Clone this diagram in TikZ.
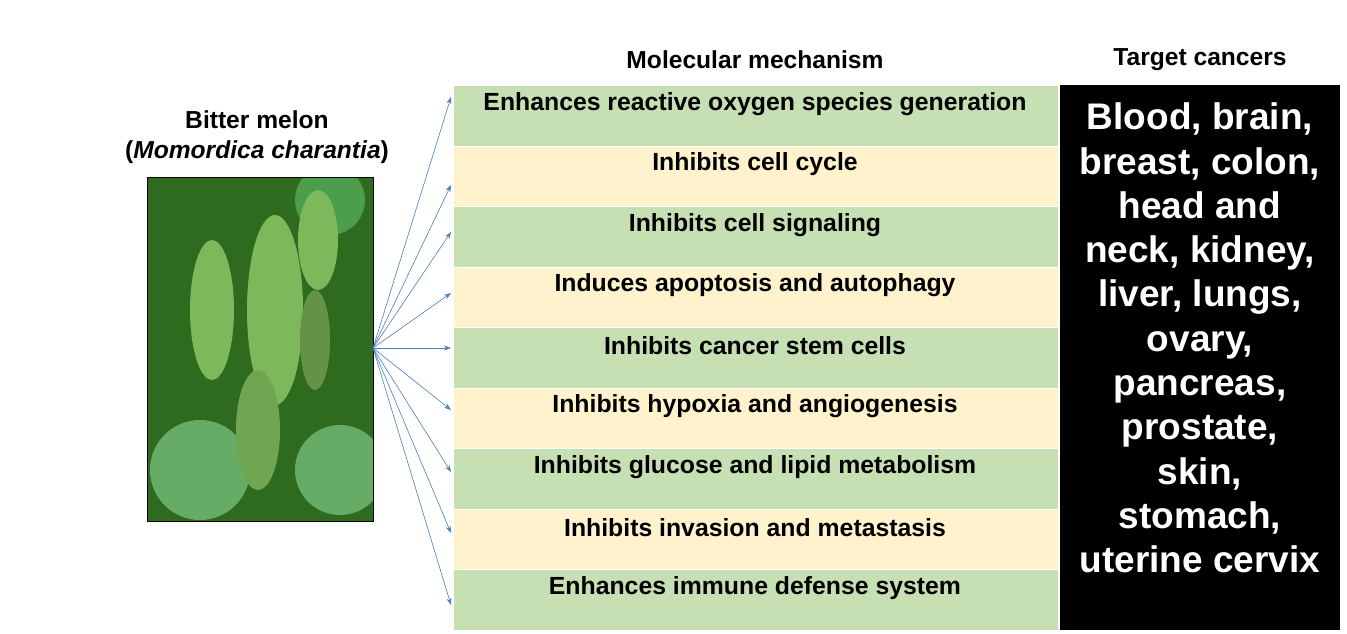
\documentclass[tikz,border=0pt]{standalone}
\usepackage{fontspec}
\setmainfont{Liberation Sans}
\usetikzlibrary{arrows.meta}
\definecolor{rg}{HTML}{C6E0B4}
\definecolor{ry}{HTML}{FFF2CC}
\definecolor{ab}{HTML}{4A7EBB}
\definecolor{leaf}{HTML}{2E6B1F}
\definecolor{melon}{HTML}{7DB85A}
\begin{document}
\begin{tikzpicture}[x=1pt,y=-1pt,
  row/.style={draw=white,line width=1pt,minimum width=605pt,minimum height=60.5pt,anchor=north west,inner sep=0pt},
  rt/.style={font=\fontsize{24.8pt}{27pt}\selectfont\bfseries},
  hdr/.style={font=\fontsize{24.6pt}{30pt}\selectfont\bfseries},
  arr/.style={ab,line width=0.6pt,-{Stealth[length=7pt,width=5pt]}}]
\useasboundingbox (0,0) rectangle (1347,634);
\node[hdr] (h1) at (755,60) {Molecular mechanism};
\node[hdr] (h2) at (1200,60) {Target cancers};
\node[hdr,align=center] (bm) at (257,137) {Bitter melon\\(\textit{Momordica charantia})};
% photo
\node[draw=black,line width=1pt,fill=leaf,minimum width=226pt,minimum height=344pt,anchor=north west,inner sep=0pt] (ph) at (147,177) {};
\begin{scope}
\clip (147,177) rectangle (373,521);
\fill[green!45!black!70] (330,200) circle (35);
\fill[green!45!black!60] (200,470) circle (50);
\fill[green!45!black!60] (340,470) circle (45);
\fill[melon] (212,310) ellipse (22 and 70);
\fill[melon] (275,310) ellipse (28 and 95);
\fill[melon] (318,240) ellipse (20 and 50);
\fill[melon!90!black] (258,430) ellipse (22 and 60);
\fill[melon!80!black] (315,340) ellipse (15 and 50);
\end{scope}
\draw[black,line width=1pt] (147,177) rectangle (373,521);
\coordinate (src) at (373,348);
% rows
\foreach \i/\c/\t in {0/rg/Enhances reactive oxygen species generation,1/ry/Inhibits cell cycle,2/rg/Inhibits cell signaling,3/ry/Induces apoptosis and autophagy,4/rg/Inhibits cancer stem cells,5/ry/Inhibits hypoxia and angiogenesis,6/rg/Inhibits glucose and lipid metabolism,7/ry/Inhibits invasion and metastasis,8/rg/Enhances immune defense system}{
  \node[row,fill=\c] (r\i) at (453,85+60.5*\i) {};
  \node[rt] (t\i) at (755,104+60.5*\i) {\t};
}
\node[fill=black,minimum width=280pt,minimum height=545pt,anchor=north west,inner sep=0pt] (bk) at (1060,85) {};
\node[text=white,align=center,font=\fontsize{37pt}{44.3pt}\selectfont\bfseries] (tc) at (1200,338) {Blood, brain,\\breast, colon,\\head and\\neck, kidney,\\liver, lungs,\\ovary,\\pancreas,\\prostate,\\skin,\\stomach,\\uterine cervix};
\foreach \i/\y in {0/97,1/185,2/232,3/293,4/348,5/410,6/472,7/533,8/605}{
  \coordinate (e\i) at (451,\y);
  \draw[arr] (src) -- (e\i);
}
\end{tikzpicture}
\end{document}
